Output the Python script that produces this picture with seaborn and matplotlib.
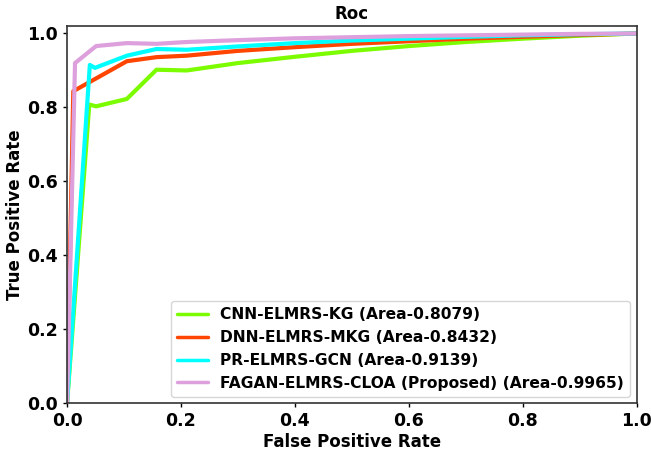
import matplotlib
matplotlib.use("Agg")
import matplotlib.pyplot as plt
import numpy as np
import pandas as pd
import seaborn as sns

# ROC points
labels = ["CNN-ELMRS-KG (Area-0.8079)",
          "DNN-ELMRS-MKG (Area-0.8432)",
          "PR-ELMRS-GCN (Area-0.9139)",
          "FAGAN-ELMRS-CLOA (Proposed) (Area-0.9965)"]
colors = ["#7CFC00", "#FF4500", "#00FFFF", "#DDA0DD"]

fpr_cnn = [0, 0.039, 0.051, 0.105, 0.157, 0.21, 0.3, 0.4, 0.5, 0.6, 0.7, 0.8, 0.9, 1.0]
tpr_cnn = [0, 0.808, 0.803, 0.823, 0.902, 0.900, 0.920, 0.937, 0.953, 0.966, 0.977, 0.986, 0.994, 1.0]

fpr_dnn = [0, 0.011, 0.105, 0.157, 0.21, 0.3, 0.4, 0.5, 0.6, 0.7, 0.8, 0.9, 1.0]
tpr_dnn = [0, 0.844, 0.925, 0.936, 0.940, 0.953, 0.963, 0.972, 0.979, 0.986, 0.991, 0.996, 1.0]

fpr_pr = [0, 0.040, 0.049, 0.105, 0.157, 0.21, 0.3, 0.4, 0.5, 0.6, 0.7, 0.8, 0.9, 1.0]
tpr_pr = [0, 0.915, 0.907, 0.940, 0.958, 0.956, 0.965, 0.974, 0.981, 0.986, 0.991, 0.995, 0.998, 1.0]

fpr_fagan = [0, 0.014, 0.051, 0.105, 0.157, 0.21, 0.3, 0.4, 0.5, 0.6, 0.7, 0.8, 0.9, 1.0]
tpr_fagan = [0, 0.920, 0.966, 0.974, 0.972, 0.977, 0.982, 0.987, 0.990, 0.993, 0.995, 0.997, 0.999, 1.0]

series = [(fpr_cnn, tpr_cnn), (fpr_dnn, tpr_dnn), (fpr_pr, tpr_pr), (fpr_fagan, tpr_fagan)]

frames = []
for lab, (f, t) in zip(labels, series):
    frames.append(pd.DataFrame({"fpr": f, "tpr": t, "model": lab}))
df = pd.concat(frames, ignore_index=True)

sns.set_style("white")
plt.rcParams['font.family'] = ['DejaVu Sans']
plt.rcParams['text.color'] = 'black'
plt.rcParams['axes.labelcolor'] = 'black'
plt.rcParams['xtick.color'] = 'black'
plt.rcParams['ytick.color'] = 'black'

fig = plt.figure(figsize=(6.51, 4.5), dpi=100)
ax = fig.add_axes([0.103, 0.104, 0.875, 0.838])

sns.lineplot(data=df, x="fpr", y="tpr", hue="model", palette=colors,
             sort=False, estimator=None, linewidth=3, ax=ax)

ax.set_xlim(0.0, 1.0)
ax.set_ylim(0.0, 1.02)
ax.set_xticks(np.arange(0, 1.01, 0.2))
ax.set_yticks(np.arange(0, 1.01, 0.2))
ax.tick_params(axis='both', labelsize=12.5, direction='out', length=3, width=1,
               bottom=True, left=True)
for lbl in ax.get_xticklabels() + ax.get_yticklabels():
    lbl.set_fontweight('bold')
for sp in ax.spines.values():
    sp.set_color('#333333')
    sp.set_linewidth(1.2)

ax.set_xlabel("False Positive Rate", fontsize=12, fontweight='bold', labelpad=2)
ax.set_ylabel("True Positive Rate", fontsize=12, fontweight='bold', labelpad=2)
ax.set_title("Roc", fontsize=12, fontweight='bold', pad=5)

leg = ax.legend(loc="lower right", prop={'weight': 'bold', 'size': 11.2},
                handlelength=2, frameon=True, borderaxespad=0.4)
for h in leg.get_lines():
    h.set_linewidth(2.5)

plt.savefig("out.png", dpi=100)
